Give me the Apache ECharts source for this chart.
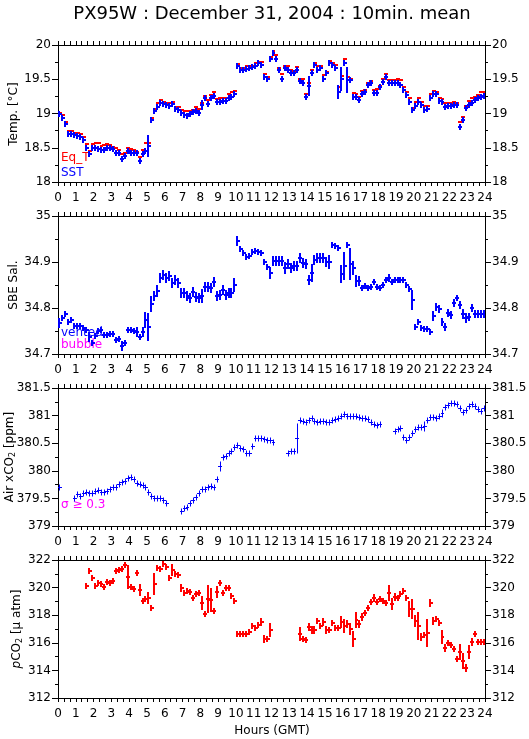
<!DOCTYPE html>
<html><head><meta charset="utf-8">
<script src="https://cdn.jsdelivr.net/npm/echarts@6/dist/echarts.min.js"></script>
<style>html,body{margin:0;padding:0;background:#fff}#c{width:529px;height:739px}</style>
</head><body><div id="c"></div>
<script>
// ---- data: one value per 10-minute slot (slot i covers hours i/6 .. (i+1)/6) ----
const hourTicks = [0,1,2,3,4,5,6,7,8,9,10,11,12,13,14,15,16,17,18,19,20,21,22,23,24];
const tempTicks = [18, 18.5, 19, 19.5, 20];
const salTicks = [34.7, 34.8, 34.9, 35];
const co2Ticks = [379, 379.5, 380, 380.5, 381, 381.5];
const pco2Ticks = [312, 314, 316, 318, 320, 322];

const eqT = [
19.01,18.98,18.88,18.75,18.75,18.72,
18.71,18.70,18.66,18.55,18.45,18.55,
18.57,18.57,18.53,18.54,18.55,18.54,
18.51,18.49,18.47,18.41,18.43,18.49,
18.48,18.47,18.44,18.36,18.47,18.57,
18.57,18.94,19.07,19.15,19.20,19.17,
19.16,19.15,19.17,19.10,19.10,19.05,
19.04,19.03,19.04,19.05,19.09,19.06,
19.16,19.25,19.19,19.27,19.31,19.21,
19.22,19.23,19.23,19.28,19.32,19.33,
19.72,19.67,19.67,19.70,19.70,19.70,
19.74,19.75,19.75,19.57,19.54,19.82,
19.91,19.85,19.67,19.57,19.70,19.69,
19.63,19.62,19.68,19.51,19.50,19.29,
19.44,19.64,19.74,19.69,19.70,19.56,
19.61,19.77,19.74,19.71,19.38,19.55,
19.79,19.54,19.50,19.30,19.29,19.24,
19.33,19.35,19.45,19.48,19.35,19.36,
19.40,19.51,19.58,19.49,19.49,19.49,
19.51,19.49,19.39,19.32,19.22,19.08,
19.17,19.22,19.17,19.11,19.11,19.28,
19.33,19.32,19.23,19.21,19.16,19.16,
19.16,19.17,19.16,18.88,18.95,19.11,
19.18,19.22,19.24,19.27,19.31,19.31];

const sst = [
18.99,18.94,18.84,18.70,18.70,18.68,
18.67,18.65,18.62,18.50,18.41,18.50,
18.50,18.48,18.46,18.47,18.49,18.49,
18.48,18.43,18.42,18.33,18.38,18.45,
18.42,18.42,18.42,18.30,18.41,18.45,
18.52,18.90,19.03,19.09,19.16,19.14,
19.12,19.11,19.14,19.07,19.05,19.01,
18.98,18.97,18.99,19.02,19.04,19.01,
19.12,19.22,19.14,19.22,19.26,19.17,
19.17,19.18,19.18,19.23,19.24,19.29,
19.70,19.63,19.63,19.65,19.67,19.68,
19.70,19.73,19.71,19.53,19.50,19.79,
19.88,19.79,19.63,19.51,19.66,19.64,
19.59,19.59,19.64,19.48,19.45,19.24,
19.40,19.59,19.71,19.64,19.66,19.50,
19.59,19.73,19.71,19.66,19.32,19.50,
19.74,19.49,19.49,19.24,19.24,19.20,
19.28,19.31,19.41,19.44,19.30,19.30,
19.39,19.46,19.54,19.45,19.44,19.44,
19.44,19.41,19.34,19.27,19.17,19.05,
19.11,19.17,19.12,19.05,19.06,19.22,
19.28,19.28,19.18,19.17,19.09,19.11,
19.11,19.12,19.12,18.80,18.90,19.08,
19.12,19.16,19.20,19.23,19.24,19.26];

const sstErr = [
.012,.012,.012,.012,.012,.012,
.012,.012,.012,.05,.012,.012,
.012,.012,.012,.012,.012,.012,
.012,.012,.012,.03,.012,.012,
.012,.012,.012,.012,.04,.05,
.16,.03,.012,.012,.012,.012,
.012,.012,.012,.012,.012,.012,
.012,.012,.012,.012,.012,.012,
.07,.012,.012,.012,.012,.012,
.012,.012,.012,.012,.012,.05,
.04,.012,.012,.012,.012,.012,
.012,.012,.012,.012,.05,.012,
.012,.012,.012,.04,.012,.012,
.012,.012,.012,.012,.012,.03,
.14,.012,.012,.012,.012,.05,
.012,.012,.012,.012,.10,.17,
.012,.19,.012,.012,.012,.012,
.012,.012,.012,.012,.012,.012,
.012,.012,.012,.012,.012,.012,
.012,.012,.012,.012,.012,.04,
.012,.012,.012,.012,.012,.03,
.012,.012,.012,.012,.012,.012,
.012,.012,.012,.04,.012,.012,
.012,.012,.012,.012,.012,.012];

const sal = [
34.768,34.778,34.786,34.769,34.775,34.760,
34.760,34.760,34.757,34.753,34.736,34.725,
34.740,34.749,34.753,34.742,34.742,34.743,
34.744,34.731,34.732,34.717,34.725,34.753,
34.753,34.749,34.747,34.738,34.747,34.775,
34.758,34.808,34.826,34.836,34.866,34.871,
34.866,34.869,34.855,34.860,34.855,34.833,
34.833,34.827,34.821,34.834,34.823,34.822,
34.826,34.846,34.845,34.844,34.856,34.827,
34.829,34.839,34.828,34.833,34.833,34.849,
34.946,34.929,34.920,34.911,34.913,34.922,
34.924,34.922,34.920,34.900,34.890,34.877,
34.903,34.903,34.903,34.903,34.888,34.896,
34.888,34.892,34.892,34.909,34.897,34.895,
34.860,34.876,34.905,34.908,34.908,34.908,
34.901,34.901,34.937,34.934,34.930,34.873,
34.891,34.938,34.896,34.888,34.858,34.858,
34.844,34.847,34.844,34.846,34.856,34.846,
34.844,34.851,34.860,34.865,34.856,34.860,
34.860,34.860,34.860,34.851,34.842,34.817,
34.758,34.769,34.757,34.755,34.755,34.747,
34.782,34.802,34.798,34.769,34.758,34.790,
34.784,34.811,34.821,34.806,34.788,34.779,
34.781,34.799,34.788,34.788,34.786,34.786];

const salErr = [
.011,.007,.007,.007,.007,.007,
.007,.007,.007,.007,.010,.007,
.007,.007,.007,.007,.007,.007,
.007,.007,.007,.011,.007,.007,
.007,.007,.010,.007,.010,.018,
.030,.018,.011,.012,.011,.011,
.011,.011,.011,.011,.011,.011,
.011,.011,.011,.011,.011,.011,
.015,.011,.011,.011,.011,.011,
.011,.011,.011,.011,.011,.015,
.010,.006,.006,.006,.006,.006,
.006,.006,.006,.006,.006,.013,
.011,.011,.011,.011,.012,.011,
.011,.011,.010,.011,.011,.011,
.010,.020,.011,.011,.011,.011,
.011,.015,.005,.005,.005,.020,
.030,.005,.035,.015,.012,.011,
.005,.005,.005,.005,.005,.005,
.005,.005,.005,.008,.005,.005,
.005,.005,.005,.005,.005,.022,
.006,.006,.005,.005,.005,.005,
.010,.008,.008,.008,.008,.008,
.008,.008,.006,.008,.010,.010,
.008,.008,.008,.008,.008,.008];

const co2 = [
379.71,null,null,null,null,379.50,
379.58,379.54,379.59,379.62,379.59,379.59,
379.64,379.65,379.61,379.61,379.64,379.67,
379.70,379.71,379.76,379.79,379.81,379.87,
379.88,379.85,379.77,379.76,379.75,379.70,
379.62,379.54,379.50,379.50,379.50,379.48,
379.42,null,null,null,null,379.28,
379.32,379.34,379.41,379.47,379.53,379.59,
379.67,379.67,379.70,379.73,379.70,379.85,
380.08,380.25,380.26,380.33,380.36,380.44,
380.47,380.41,380.39,380.33,380.32,380.45,
380.60,380.60,380.60,380.58,380.55,380.55,
380.52,null,null,null,null,380.33,
380.35,380.36,380.59,380.92,380.91,380.88,
380.92,380.95,380.91,380.88,380.91,380.91,
380.89,380.88,380.92,380.94,380.96,381.00,
381.03,381.00,380.99,380.99,380.99,380.97,
380.95,380.95,380.94,380.88,380.85,380.83,
380.85,null,null,null,null,380.73,
380.76,380.77,380.62,380.55,380.62,380.68,
380.76,380.79,380.79,380.82,380.92,380.97,
380.97,380.95,380.99,381.05,381.15,381.20,
381.23,381.22,381.21,381.14,381.06,381.11,
381.18,381.21,381.17,381.12,381.09,381.14];

const co2Err = [
.012,.012,.012,.012,.012,.012,
.012,.012,.012,.012,.012,.012,
.012,.012,.012,.012,.012,.012,
.012,.012,.012,.012,.012,.012,
.012,.012,.012,.012,.012,.012,
.012,.012,.012,.012,.012,.012,
.012,.012,.012,.012,.012,.012,
.012,.012,.012,.012,.012,.012,
.012,.012,.012,.012,.012,.04,
.09,.012,.012,.012,.012,.012,
.012,.012,.012,.012,.012,.06,
.012,.012,.012,.012,.012,.012,
.012,.012,.012,.012,.012,.012,
.012,.012,.27,.012,.012,.012,
.012,.012,.012,.012,.012,.012,
.012,.012,.012,.012,.012,.012,
.012,.012,.012,.012,.012,.012,
.012,.012,.012,.012,.012,.012,
.012,.012,.012,.012,.012,.012,
.012,.012,.06,.012,.012,.012,
.012,.012,.012,.09,.012,.012,
.012,.012,.012,.07,.012,.05,
.012,.05,.012,.012,.012,.012,
.012,.012,.012,.012,.012,.012];

const pco2 = [
null,null,null,null,null,null,
null,null,null,320.12,321.20,320.67,
320.12,320.36,320.24,320.07,320.39,320.36,
320.51,321.20,321.28,321.33,321.64,320.80,
320.07,319.88,321.04,319.83,319.04,319.16,
319.23,318.51,320.27,321.40,321.35,321.71,
321.47,320.72,321.28,320.96,320.92,319.95,
319.64,319.78,319.71,319.23,319.54,319.59,
318.92,318.10,319.16,319.11,318.27,319.71,
320.31,319.64,319.95,319.95,319.40,319.06,
316.63,316.65,316.65,316.65,316.75,317.23,
317.06,317.30,317.54,316.27,316.31,316.92,
null,null,null,null,null,null,
null,null,null,316.65,316.29,316.17,
317.16,316.92,316.92,317.57,317.25,317.49,
316.92,316.92,317.44,317.08,317.08,317.51,
317.25,317.39,316.97,316.31,317.68,317.39,
317.87,318.13,318.54,318.97,319.26,318.95,
319.14,319.02,318.90,319.58,318.78,319.33,
319.26,319.51,319.75,319.26,318.42,318.42,
317.57,317.25,316.43,316.60,316.72,318.85,
317.57,317.74,317.45,316.43,315.63,315.95,
315.87,315.55,314.79,315.34,314.70,314.18,
315.34,316.07,316.62,316.07,316.07,316.07];

const pco2Err = [
.12,.12,.12,.12,.12,.12,
.12,.12,.12,.17,.10,.20,
.12,.12,.12,.10,.12,.12,
.10,.12,.12,.12,.12,.88,
.12,.15,.15,.40,.25,.20,
.40,.20,.80,.20,.25,.10,
.20,.12,.40,.25,.20,.30,
.12,.12,.12,.20,.12,.12,
.50,.12,1.00,.85,.20,.40,
.15,.12,.20,.20,.20,.25,
.20,.15,.12,.12,.12,.20,
.12,.20,.30,.30,.12,.50,
.12,.12,.12,.12,.12,.12,
.12,.12,.12,.50,.12,.12,
.30,.30,.30,.20,.20,.30,
.30,.12,.10,.12,.12,.40,
.50,.30,.40,.60,.60,.30,
.30,.15,.20,.15,.30,.15,
.12,.12,.12,.60,.40,.30,
.20,.12,.25,.12,.60,.70,
.40,1.00,.30,.20,1.00,.30,
.30,.20,.15,.50,.30,.20,
.20,.15,.25,.60,.60,.30,
.50,.30,.20,.20,.15,.15];

// ---- chart ----
const FONT = "'DejaVu Sans', sans-serif";
const BLUE = '#0000ff', RED = '#ff0000', MAG = '#ff00ff';

function build(vals, errs) {
  const out = [];
  vals.forEach((v, i) => { if (v !== null) out.push([i, v, errs ? errs[i] : 0]); });
  return out;
}
function makeRender(color, lw, vertical) {
  const off = lw % 2 === 1 ? 0.5 : 0;
  return function (params, api) {
    const i = api.value(0), v = api.value(1), e = api.value(2);
    const t = (i + 0.5) / 6;
    const p = api.coord([t, v]);
    const pl = api.coord([t - 1 / 12, v]);
    const pr = api.coord([t + 1 / 12, v]);
    const style = { stroke: color, lineWidth: lw, fill: null };
    const y = Math.round(p[1]) + off;
    const children = [{ type: 'line', shape: { x1: Math.round(pl[0]), y1: y, x2: Math.round(pr[0]) + 1, y2: y }, style }];
    if (vertical) {
      const pt = api.coord([t, v + e]);
      const pb = api.coord([t, v - e]);
      const up = Math.round(Math.max(p[1] - pt[1], 2.5)), dn = Math.round(Math.max(pb[1] - p[1], 2.5));
      const x = Math.round(p[0]) + off;
      children.push({ type: 'line', shape: { x1: x, y1: y - up, x2: x, y2: y + dn }, style });
    }
    return { type: 'group', children };
  };
}
function fmt(v) { return String(Math.round(v * 1000) / 1000); }
function step(arr) { return Math.round((arr[1] - arr[0]) * 1000) / 1000; }

const grids = [
  { left: 58, top: 45, width: 427, height: 137, outerBoundsMode: 'none', containLabel: false },
  { left: 58, top: 216, width: 427, height: 138, outerBoundsMode: 'none', containLabel: false },
  { left: 58, top: 388, width: 427, height: 138, outerBoundsMode: 'none', containLabel: false },
  { left: 58, top: 560, width: 427, height: 138, outerBoundsMode: 'none', containLabel: false }
];
const axLine = { show: true, onZero: false, lineStyle: { color: '#000', width: 1 } };
const xAxes = [], yAxes = [];
const yTickSets = [tempTicks, salTicks, co2Ticks, pco2Ticks];
grids.forEach((g, k) => {
  ['bottom', 'top'].forEach(pos => {
    xAxes.push({
      gridIndex: k, type: 'value', position: pos,
      min: hourTicks[0], max: hourTicks[hourTicks.length - 1], interval: step(hourTicks),
      axisLine: axLine,
      axisTick: { show: true, inside: false, length: 4, lineStyle: { color: '#000' } },
      minorTick: { show: true, splitNumber: 3, length: 4, lineStyle: { color: '#000' } },
      axisLabel: { show: pos === 'bottom', color: '#000', fontSize: 12, fontFamily: FONT, margin: 10, formatter: fmt },
      splitLine: { show: false }, minorSplitLine: { show: false }
    });
  });
  const tk = yTickSets[k];
  ['left', 'right'].forEach(pos => {
    yAxes.push({
      gridIndex: k, type: 'value', position: pos,
      min: tk[0], max: tk[tk.length - 1], interval: step(tk),
      axisLine: axLine,
      axisTick: { show: true, inside: false, length: 6, lineStyle: { color: '#000' } },
      minorTick: { show: true, splitNumber: 2, length: 3, lineStyle: { color: '#000' } },
      axisLabel: { show: true, color: '#000', fontSize: 12, fontFamily: FONT, margin: 7, formatter: fmt },
      splitLine: { show: false }, minorSplitLine: { show: false }
    });
  });
});

function ser(k, vals, errs, color, lw, vertical) {
  return { type: 'custom', xAxisIndex: 2 * k, yAxisIndex: 2 * k, clip: true, silent: true,
           renderItem: makeRender(color, lw, vertical), data: build(vals, errs), z: 3 };
}

function txt(x, y, text, color, size, align) {
  return { type: 'text', x, y, z: 1, style: { text, fill: color, fontSize: size, fontFamily: FONT,
           align: align || 'left', verticalAlign: 'middle' } };
}
const richName = {
  s: { fontSize: 8, fontFamily: FONT, fill: '#000', verticalAlign: 'bottom', padding: [6, 0, 0, 0] },
  n: { fontSize: 12, fontFamily: FONT, fill: '#000' },
  i: { fontSize: 12, fontFamily: FONT, fill: '#000', fontStyle: 'italic' }
};
function vname(x, y, text) {
  return { type: 'text', x, y, rotation: Math.PI / 2, z: 1,
           style: { text, fill: '#000', fontSize: 12, fontFamily: FONT, align: 'center', verticalAlign: 'middle', rich: richName } };
}

const chart = echarts.init(document.getElementById('c'), null, { renderer: 'canvas' });
chart.setOption({
  animation: false,
  backgroundColor: '#fff',
  grid: grids,
  xAxis: xAxes,
  yAxis: yAxes,
  series: [
    ser(0, eqT, null, RED, 2, false),
    ser(0, sst, sstErr, BLUE, 2, true),
    ser(1, sal, salErr, BLUE, 2, true),
    ser(2, co2, co2Err, BLUE, 1, true),
    ser(3, pco2, pco2Err, RED, 2, true)
  ],
  graphic: [
    txt(272, 14, 'PX95W : December 31, 2004 : 10min. mean', '#000', 18, 'center'),
    vname(14, 114, '{n|Temp. [°C]}'),
    vname(14, 285, '{n|SBE Sal.}'),
    vname(10, 457, '{n|Air xCO}{s|2}{n| [ppm]}'),
    vname(17, 629, '{i|p}{n|CO}{s|2}{n| [μ atm]}'),
    txt(61, 158, 'Eq_T', RED, 12),
    txt(61, 173, 'SST', BLUE, 12),
    txt(61, 333, 'vented', BLUE, 12),
    txt(61, 345, 'bubble', MAG, 12),
    txt(61, 505, 'σ ≥ 0.3', MAG, 12),
    txt(272, 731, 'Hours (GMT)', '#000', 12, 'center')
  ]
});
</script>
</body></html>
